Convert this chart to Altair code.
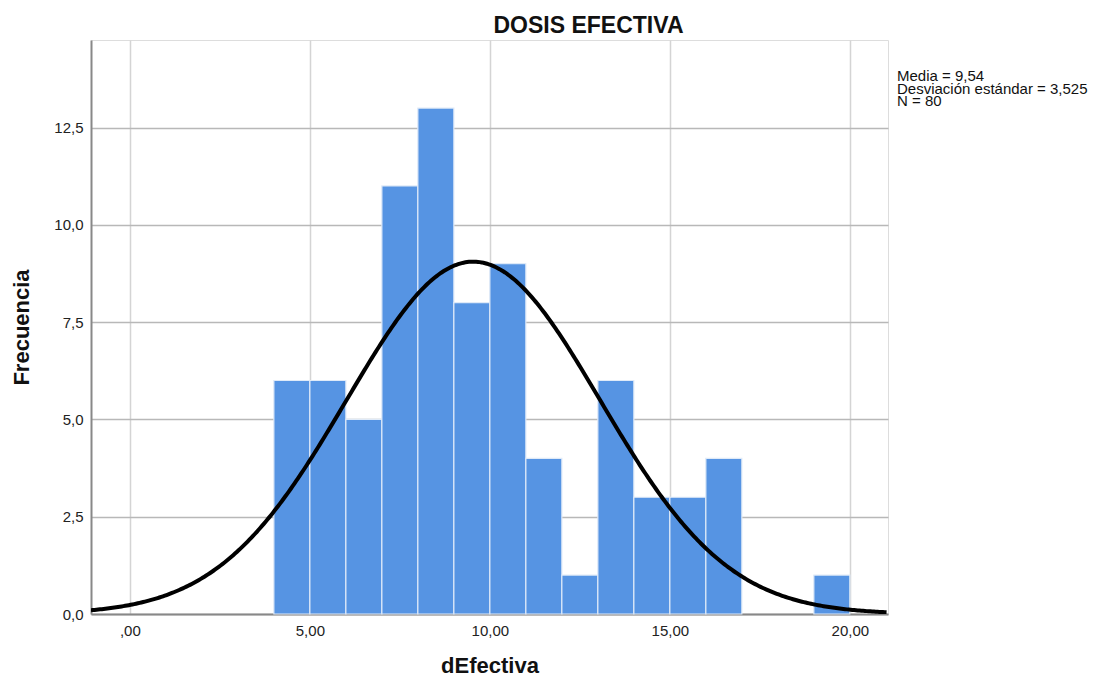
import altair as alt
import pandas as pd

bin_start = [4, 5, 6, 7, 8, 9, 10, 11, 12, 13, 14, 15, 16, 19]
counts = [6, 6, 5, 11, 13, 8, 9, 4, 1, 6, 3, 3, 4, 1]
bin_width = 1
mean_val = 9.54
sd_val = 3.525
n_val = 80
x_ticks = [0, 5, 10, 15, 20]
y_ticks = [0, 2.5, 5, 7.5, 10, 12.5]
stats_lines = ["Media = 9,54", "Desviación estándar = 3,525", "N = 80"]
title_text = "DOSIS EFECTIVA"

bars_df = pd.DataFrame({"start": bin_start, "count": counts})
bars_df["end"] = bars_df["start"] + bin_width

W, H = 797, 574
xdom = [-1.08, 21.06]
ydom = [0, 14.75]
FONT = "Liberation Sans"

xscale = alt.Scale(domain=xdom, nice=False, zero=False)
yscale = alt.Scale(domain=ydom, nice=False)

xaxis = alt.Axis(
    values=x_ticks, title="dEfectiva", grid=True, gridColor="#d4d4d4", gridWidth=1.5,
    labelExpr="datum.value == 0 ? ',00' : replace(format(datum.value, '.2f'), '.', ',')",
    ticks=False, labelPadding=9, labelFontSize=15, labelColor="#222", labelFont=FONT,
    titleFont=FONT, titleFontSize=22, titleFontWeight="bold", titleColor="#111", titlePadding=17,
    domainColor="#888", domainWidth=2,
)
yaxis = alt.Axis(
    values=y_ticks, title="Frecuencia", grid=True, gridColor="#b8b8b8", gridWidth=1.5,
    labelExpr="replace(format(datum.value, '.1f'), '.', ',')",
    ticks=False, labelPadding=8, labelFontSize=15, labelColor="#222", labelFont=FONT,
    titleFont=FONT, titleFontSize=22, titleFontWeight="bold", titleColor="#111", titlePadding=20,
    domainColor="#888", domainWidth=2,
)

bars = alt.Chart(bars_df).mark_rect(
    color="#5694e3", stroke="#dfeaf8", strokeWidth=1.2
).encode(
    x=alt.X("start:Q", scale=xscale, axis=xaxis),
    x2="end:Q",
    y=alt.Y("count:Q", scale=yscale, axis=yaxis),
    y2=alt.datum(0),
)

curve = alt.Chart(alt.sequence(xdom[0], xdom[1] + 0.01, 0.05, as_="v")).transform_calculate(
    dens=f"{n_val * bin_width} * densityNormal(datum.v, {mean_val}, {sd_val})"
).mark_line(color="black", strokeWidth=4, clip=True).encode(
    x=alt.X("v:Q", scale=xscale),
    y=alt.Y("dens:Q", scale=yscale),
)

stats = alt.Chart(pd.DataFrame({"t": [stats_lines]})).mark_text(
    align="left", baseline="alphabetic", fontSize=15, font=FONT, color="#111", lineHeight=12.5
).encode(
    text="t", x=alt.value(W + 9), y=alt.value(41),
)

title = alt.Chart(pd.DataFrame({"t": [title_text]})).mark_text(
    align="center", baseline="alphabetic", fontSize=23, font=FONT, fontWeight="bold", color="#111"
).encode(
    text="t", x=alt.value(497.5), y=alt.value(-6.7),
)

chart = alt.layer(bars, curve, stats, title).properties(
    width=W, height=H,
    autosize=alt.AutoSizeParams(type="none"),
    padding={"left": 83, "top": 32, "right": 200, "bottom": 62},
).configure_view(stroke=None).configure(background="white")

chart.save("out.html", embed_options={"renderer": "svg", "actions": False})
